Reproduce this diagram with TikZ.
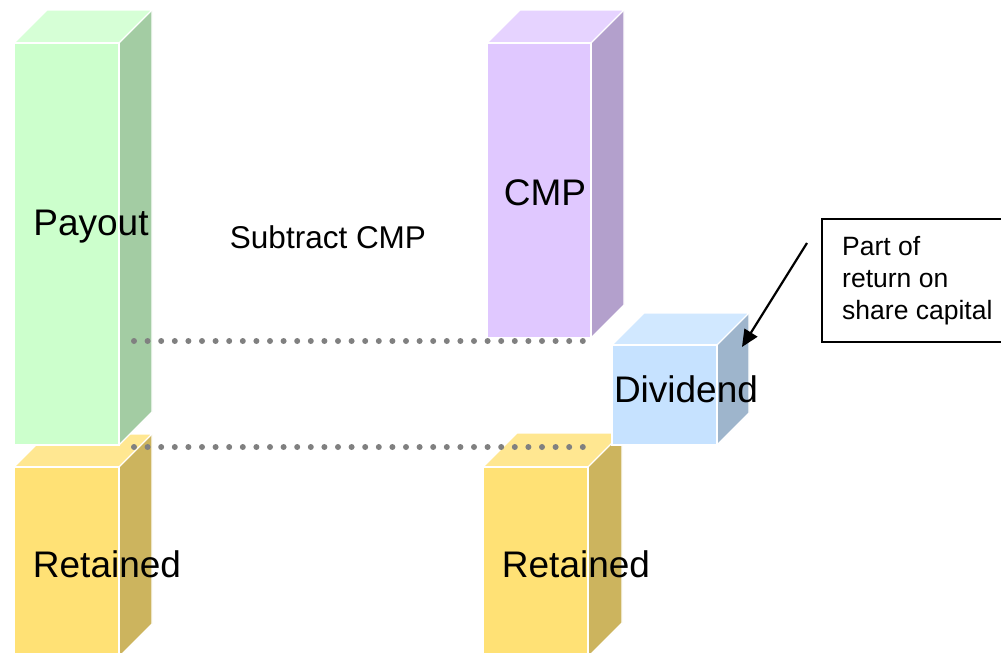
\documentclass[tikz,border=0pt]{standalone}
\usepackage{fontspec}
\setmainfont{Liberation Sans}
\usetikzlibrary{arrows.meta}
\definecolor{gF}{HTML}{CCFFCC}\definecolor{gT}{HTML}{D6FFD6}\definecolor{gS}{HTML}{A3CCA3}
\definecolor{yF}{HTML}{FFE175}\definecolor{yT}{HTML}{FFE791}\definecolor{yS}{HTML}{CCB45E}
\definecolor{pF}{HTML}{E0C8FF}\definecolor{pT}{HTML}{E6D3FF}\definecolor{pS}{HTML}{B3A0CC}
\definecolor{bF}{HTML}{C6E2FF}\definecolor{bT}{HTML}{D1E8FF}\definecolor{bS}{HTML}{9EB5CC}
\definecolor{dotgray}{HTML}{808080}
\newcommand\mycube[8]{%
  \fill[#6] (#1,#2) rectangle ++(#3,#4);
  \fill[#7] (#1,#2) -- ++(#5,-#5) -- ++(#3,0) -- ++(-#5,#5) -- cycle;
  \fill[#8] (#1+#3,#2) -- ++(#5,-#5) -- ++(0,#4) -- ++(-#5,#5) -- cycle;
  \draw[cubeedge] (#1,#2) rectangle ++(#3,#4);
  \draw[cubeedge] (#1,#2) -- ++(#5,-#5) -- ++(#3,0) -- ++(-#5,#5);
  \draw[cubeedge] (#1+#3+#5,#2-#5) -- ++(0,#4) -- ++(-#5,#5);
}
\tikzset{
  cubeedge/.style={white, line width=1.3pt, line join=miter},
  bigtext/.style={font=\fontsize{37}{40}\selectfont, anchor=base, inner sep=0pt},
  midtext/.style={font=\fontsize{31.5}{36}\selectfont, anchor=base, inner sep=0pt},
  notetext/.style={font=\fontsize{26.5}{32}\selectfont, anchor=base west, inner sep=0pt},
  dotline/.style={dotgray, line width=6pt, line cap=round, dash pattern=on 0pt off 13.6pt},
  notebox/.style={draw=black, line width=2pt},
  pointer/.style={black, line width=2.2pt, -{Triangle[length=17pt,width=15pt]}},
}
\begin{document}
\begin{tikzpicture}[x=1pt,y=-1pt]
\useasboundingbox (0,0) rectangle (1001,653);
\clip (0,0) rectangle (1001,653);
% cubes
\mycube{14}{467}{105}{190}{33}{yF}{yT}{yS}
\mycube{14}{43}{105}{402}{33}{gF}{gT}{gS}
\mycube{483}{467}{105}{190}{34}{yF}{yT}{yS}
\mycube{487}{43}{104}{295}{33}{pF}{pT}{pS}
\mycube{612}{345}{105}{100}{32}{bF}{bT}{bS}
% dotted lines
\coordinate (u1) at (134,341); \coordinate (u2) at (583,341);
\coordinate (l1) at (134,447); \coordinate (l2) at (583,447);
\draw[dotline] (u1) -- (u2);
\draw[dotline] (l1) -- (l2);
% labels
\node[bigtext] (payout) at (91,235) {Payout};
\node[bigtext] (retL) at (107,577) {Retained};
\node[bigtext] (retR) at (576,577) {Retained};
\node[bigtext] (cmp) at (545,205) {CMP};
\node[bigtext] (div) at (686,402) {Dividend};
\node[midtext] (sub) at (328,248) {Subtract CMP};
% note box
\draw[notebox] (822,219) rectangle (1012,342);
\node[notetext] (n1) at (842,255) {Part of};
\node[notetext] (n2) at (842,287) {return on};
\node[notetext] (n3) at (842,319) {share capital};
\coordinate (arrowstart) at (807,243);
\coordinate (arrowtip) at (742,347);
\draw[pointer] (arrowstart) -- (arrowtip);
\end{tikzpicture}
\end{document}
